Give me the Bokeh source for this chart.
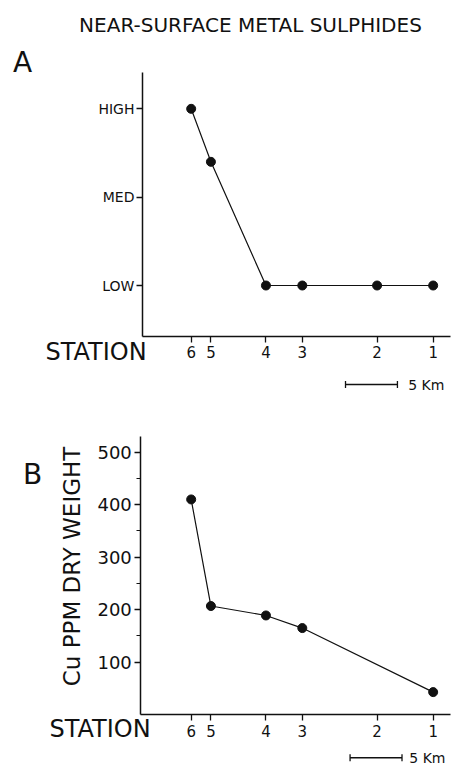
import math
from bokeh.plotting import figure
from bokeh.layouts import column
from bokeh.models import (FixedTicker, Label, Arrow, TeeHead, Range1d, LinearAxis)
from bokeh.embed import file_html
from bokeh.resources import INLINE

# ---- data ----
stations = ["6", "5", "4", "3", "2", "1"]
station_km = [0.0, 1.9, 7.2, 10.7, 17.9, 23.3]          # distance along transect (km)
sulphide_level = [3.0, 2.4, 1.0, 1.0, 1.0, 1.0]          # 1=LOW, 2=MED, 3=HIGH
level_ticks = [1, 2, 3]
level_labels = ["LOW", "MED", "HIGH"]
cu_stations = ["6", "5", "4", "3", "1"]
cu_ppm = [410, 207, 189, 165, 43]
cu_ticks = [100, 200, 300, 400, 500]
cu_minor_ticks = [150, 250, 350, 450]
scale_km = 5

cu_km = [station_km[stations.index(s)] for s in cu_stations]

FONT = "DejaVu Sans"
INK = "#111111"
W = 458
X_RANGE = (-18.36, 25.74)


def base_fig(height, y_range):
    p = figure(width=W, height=height, output_backend="svg", toolbar_location=None,
               x_range=Range1d(*X_RANGE), y_range=Range1d(*y_range),
               x_axis_location=None, y_axis_location=None,
               min_border_left=0, min_border_right=0, min_border_top=0,
               min_border_bottom=0)
    p.grid.visible = False
    p.outline_line_color = None
    p.background_fill_color = "white"
    p.border_fill_color = "white"
    return p


def style_axis(ax):
    ax.axis_line_color = INK
    ax.axis_line_width = 1.5
    ax.major_tick_line_color = INK
    ax.major_tick_line_width = 1.3
    ax.minor_tick_line_color = INK
    ax.minor_tick_line_width = 1.2
    ax.major_tick_in = 0
    ax.major_tick_out = 6
    ax.minor_tick_in = 0
    ax.minor_tick_out = 4
    ax.major_label_text_font = FONT
    ax.major_label_text_color = INK
    ax.major_label_text_font_size = "15px"


def station_axis(p, y_at, x_left):
    ax = LinearAxis(fixed_location=y_at, bounds=(x_left, 24.97),
                    ticker=FixedTicker(ticks=station_km, minor_ticks=[]))
    style_axis(ax)
    ax.major_label_overrides = {k: s for k, s in zip(station_km, stations)}
    ax.major_label_standoff = 4
    p.add_layout(ax, "below")


def label(p, x, y, text, size, align="left", angle=0.0):
    p.add_layout(Label(x=x, y=y, text=text, text_font=FONT, text_font_size=size,
                       text_color=INK, text_align=align, text_baseline="middle",
                       angle=angle))


def scale_bar(p, x0, y, text_x):
    p.add_layout(Arrow(x_start=x0, y_start=y, x_end=x0 + scale_km, y_end=y,
                       line_color=INK, line_width=1.3,
                       start=TeeHead(size=7, line_color=INK, line_width=1.3),
                       end=TeeHead(size=7, line_color=INK, line_width=1.3)))
    label(p, text_x, y, f"{scale_km} Km", "14px")


# ---------------- Panel A ----------------
pA = base_fig(392, (-0.211, 4.226))
yA = LinearAxis(fixed_location=-4.69, bounds=(0.423, 3.411),
                ticker=FixedTicker(ticks=level_ticks, minor_ticks=[]))
style_axis(yA)
yA.major_label_overrides = {k: s for k, s in zip(level_ticks, level_labels)}
yA.major_label_text_font_size = "14px"
yA.major_label_standoff = 2
pA.add_layout(yA, "left")
station_axis(pA, 0.423, -4.69)

pA.line(station_km, sulphide_level, line_color=INK, line_width=1.2)
pA.scatter(station_km, sulphide_level, size=9, color=INK)

label(pA, 5.71, 3.954, "NEAR-SURFACE METAL SULPHIDES", "20px", align="center")
label(pA, -16.24, 3.524, "A", "28px", align="center")
label(pA, -14.03, 0.245, "STATION", "24px")
scale_bar(pA, 14.86, -0.1205, 20.9)

# ---------------- Panel B ----------------
pB = base_fig(378, (-106.3, 613.7))
yB = LinearAxis(fixed_location=-4.85, bounds=(0, 530),
                ticker=FixedTicker(ticks=cu_ticks, minor_ticks=cu_minor_ticks))
style_axis(yB)
yB.major_label_text_font_size = "18px"
yB.major_label_standoff = 3
pB.add_layout(yB, "left")
station_axis(pB, 0, -4.85)

pB.line(cu_km, cu_ppm, line_color=INK, line_width=1.2)
pB.scatter(cu_km, cu_ppm, size=9, color=INK)

label(pB, -11.43, 282.3, "Cu PPM DRY WEIGHT", "23px", align="center", angle=math.pi / 2)
label(pB, -15.28, 457.5, "B", "28px", align="center")
label(pB, -13.64, -26.3, "STATION", "24px")
scale_bar(pB, 15.30, -82.0, 21.0)

layout = column(pA, pB, spacing=0)
open("out.html", "w").write(file_html(layout, INLINE))
